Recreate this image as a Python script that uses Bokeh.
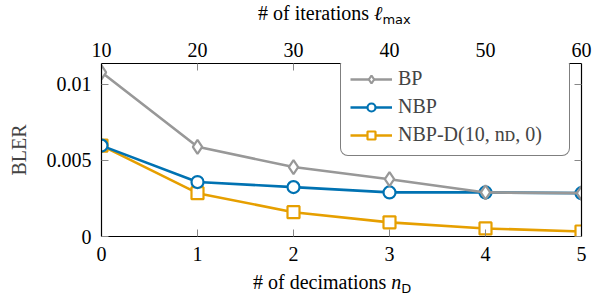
from bokeh.plotting import figure
from bokeh.models import (Range1d, LinearAxis, FixedTicker, Legend, LegendItem, Div)
from bokeh.layouts import column
from bokeh.embed import file_html
from bokeh.resources import INLINE

# ---- data ----
decimations = [0, 1, 2, 3, 4, 5]
iter_ticks = [10, 20, 30, 40, 50, 60]
bp = [0.0108, 0.0059, 0.00457, 0.00377, 0.0029, 0.00285]
nbp = [0.00598, 0.00358, 0.00325, 0.0029, 0.0029, 0.00285]
nbpd = [0.00598, 0.00285, 0.0016, 0.00093, 0.00053, 0.00033]
y_ticks = [0, 0.005, 0.01]
y_tick_labels = {0: "0", 0.005: "0.005", 0.01: "0.01"}

SERIF = "Liberation Serif"
SANS = "DejaVu Sans"
FS = "20px"
GRAY = "#989898"
BLUE = "#0072B2"
ORANGE = "#E69F00"

W = 592
TOP_H, BOT_H = 28, 26
FIG_H = 296 - TOP_H - BOT_H
FL, FR, FT, FB = 101, 581, 63, 236   # frame edges in page pixels

p = figure(width=W, height=FIG_H, output_backend="svg", toolbar_location=None,
           x_range=Range1d(0, 5), y_range=Range1d(0, 0.01138),
           min_border_left=FL, min_border_right=W - FR,
           min_border_top=FT - TOP_H, min_border_bottom=(TOP_H + FIG_H) - FB,
           margin=0)
p.background_fill_color = "white"
p.border_fill_color = "white"
p.outline_line_color = None
p.xgrid.visible = False
p.ygrid.visible = False

p.extra_x_ranges = {"iters": Range1d(10, 60)}


def style_axis(ax, labels=True, standoff=8):
    ax.axis_line_color = "black"
    ax.axis_line_width = 1.2
    ax.major_tick_in = 7
    ax.major_tick_out = 0
    ax.major_tick_line_color = "#888888"
    ax.major_tick_line_width = 1
    ax.minor_tick_line_color = None
    ax.major_label_text_font = SERIF
    ax.major_label_text_font_size = FS
    ax.major_label_text_color = "black" if labels else None
    ax.major_label_standoff = standoff
    ax.axis_label_text_font = SERIF
    ax.axis_label_text_font_size = FS
    ax.axis_label_text_font_style = "normal"


xb = p.xaxis[0]
xb.ticker = FixedTicker(ticks=decimations)
style_axis(xb, standoff=10)

yl = p.yaxis[0]
yl.ticker = FixedTicker(ticks=y_ticks)
yl.major_label_overrides = y_tick_labels
yl.axis_label = "BLER"
style_axis(yl, standoff=10)
yl.axis_label_standoff = 14

top = LinearAxis(x_range_name="iters", ticker=FixedTicker(ticks=iter_ticks))
style_axis(top, standoff=7)
p.add_layout(top, "above")

right = LinearAxis(ticker=FixedTicker(ticks=y_ticks))
style_axis(right, labels=False)
right.major_label_text_font_size = "0px"
right.major_label_standoff = 0
p.add_layout(right, "right")

# ---- series ----
r3l = p.line(decimations, nbpd, line_color=ORANGE, line_width=2.6)
r3m = p.scatter(decimations, nbpd, marker="square", size=12, fill_color="white",
                line_color=ORANGE, line_width=2.2)
r2l = p.line(decimations, nbp, line_color=BLUE, line_width=2.6)
r2m = p.scatter(decimations, nbp, marker="circle", size=12, fill_color="white",
                line_color=BLUE, line_width=2.2)
r1l = p.line(decimations, bp, line_color=GRAY, line_width=2.6)
r1m = p.scatter(decimations, bp, marker="diamond", size=14, fill_color="white",
                line_color=GRAY, line_width=2.2)

legend = Legend(items=[
    LegendItem(label="BP", renderers=[r1l, r1m]),
    LegendItem(label="NBP", renderers=[r2l, r2m]),
    LegendItem(label="NBP-D(10, n\u1d05, 0)", renderers=[r3l, r3m]),
], location=(340 - FL, FB - 156))
legend.label_text_font = SERIF
legend.label_text_font_size = FS
legend.border_line_color = "black"
legend.border_line_width = 1.2
legend.background_fill_alpha = 1
legend.glyph_width = 42
legend.glyph_height = 20
legend.label_height = 20
legend.spacing = 5
legend.padding = 9
legend.margin = 0
legend.label_standoff = 6
legend.label_width = 162
if "border_radius" in Legend.properties():
    legend.border_radius = 8
p.add_layout(legend)

# ---- axis titles with subscripts (real HTML text) ----
div_styles = {"font-family": '"Liberation Serif", "Times New Roman", serif',
              "font-size": "20px", "color": "black", "line-height": "1"}
base = ('position:relative;white-space:nowrap;'
        'font-family:&quot;Liberation Serif&quot;, &quot;Times New Roman&quot;, serif;'
        'font-size:20px;line-height:1;color:black;')
sub = 'font-family:&quot;DejaVu Sans&quot;, sans-serif;font-size:13px;position:relative;top:4px;'

top_div = Div(
    text=(f'<div style="{base}left:258px;top:3px;">'
          f'<span># of iterations </span><i style="font-family:&quot;Liberation Serif&quot;, serif;">\u2113</i>'
          f'<span style="{sub}">max</span></div>'),
    width=W, height=TOP_H, margin=0, styles=div_styles)
bot_div = Div(
    text=(f'<div style="{base}left:253px;top:2px;">'
          f'<span># of decimations </span><i style="font-family:&quot;Liberation Serif&quot;, serif;">n</i>'
          f'<span style="{sub}">D</span></div>'),
    width=W, height=BOT_H, margin=0, styles=div_styles)

layout = column(top_div, p, bot_div, spacing=0, margin=0)
open("out.html", "w").write(file_html(layout, INLINE))
